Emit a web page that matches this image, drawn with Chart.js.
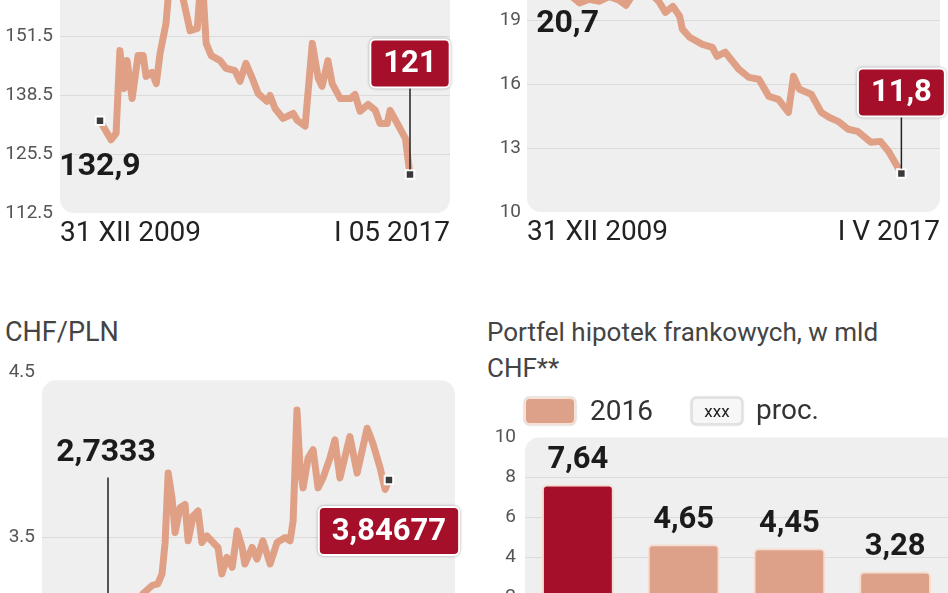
<!DOCTYPE html>
<html>
<head>
<meta charset="utf-8">
<script src="https://cdn.jsdelivr.net/npm/chart.js@4.4.1/dist/chart.umd.min.js"></script>
<style>
  html, body { margin: 0; padding: 0; background: #fff; }
  body { width: 948px; height: 593px; position: relative; overflow: hidden; font-family: Roboto, sans-serif; }
  .pane { position: absolute; }
  .title { position: absolute; color: #444; font-size: 26px; line-height: 36px; white-space: nowrap; }
  .swatch { position: absolute; width: 48px; height: 24px; border-radius: 6px; box-shadow: 0 0 2px rgba(0,0,0,0.35); }
  .legtext { position: absolute; color: #333; font-size: 28px; line-height: 28px; }
</style>
</head>
<body>

<div class="pane" style="left:0;top:-101px"><canvas id="c1" width="474" height="354"></canvas></div>
<div class="pane" style="left:474px;top:-64px"><canvas id="c2" width="474" height="316"></canvas></div>
<div class="pane" style="left:0;top:352px"><canvas id="c3" width="474" height="391"></canvas></div>
<div class="pane" style="left:474px;top:417px"><canvas id="c4" width="474" height="260"></canvas></div>

<div class="title" style="left:5px;top:314px;font-size:27px">CHF/PLN</div>
<div class="title" style="left:487px;top:314px">Portfel hipotek frankowych, w mld<br>CHF**</div>

<div class="swatch" style="left:524px;top:397px;background:#dda088;border:2px solid #f6e1d7"></div>
<div class="legtext" style="left:590px;top:397px">2016</div>
<div class="swatch" style="left:691px;top:397px;background:#f7f7f7;border:2px solid #e2e2e2;font-size:17px;line-height:24px;text-align:center;color:#222">xxx</div>
<div class="legtext" style="left:756px;top:396px">proc.</div>

<script>
// top-left panel
const dates1 = [2010.00, 2010.26, 2010.38, 2010.47, 2010.57, 2010.64, 2010.76, 2010.90, 2011.02, 2011.09,
  2011.23, 2011.33, 2011.42, 2011.56, 2011.66, 2011.85, 2011.99, 2012.13, 2012.30, 2012.37,
  2012.44, 2012.51, 2012.63, 2012.84, 2012.98, 2013.19, 2013.31, 2013.45, 2013.60, 2013.74,
  2013.95, 2014.02, 2014.14, 2014.33, 2014.57, 2014.66, 2014.85, 2015.02, 2015.16, 2015.25,
  2015.39, 2015.49, 2015.68, 2015.92, 2016.03, 2016.15, 2016.34, 2016.51, 2016.62, 2016.79,
  2016.86, 2017.03, 2017.22, 2017.33];
const values1 = [132.9, 128.7, 130.1, 148.4, 140.0, 146.2, 137.8, 147.3, 147.3, 142.7,
  143.6, 141.1, 147.8, 154.4, 165.4, 164.3, 158.8, 152.8, 153.3, 162.1,
  161.0, 150.0, 147.3, 146.2, 144.5, 144.0, 141.6, 145.6, 142.3, 138.9,
  137.2, 138.5, 135.6, 133.4, 134.5, 133.0, 131.7, 150.0, 142.3, 140.5,
  146.2, 141.1, 137.8, 137.8, 138.7, 135.0, 136.5, 135.2, 132.3, 132.3,
  135.2, 132.3, 129.0, 121];
const yTicks1 = [112.5, 125.5, 138.5, 151.5, 164.5, 177.5];
const xLabels1 = ['31 XII 2009', 'I 05 2017'];

// top-right panel
const dates2 = [2010.00, 2010.11, 2010.26, 2010.48, 2010.70, 2010.91, 2011.13, 2011.28, 2011.44, 2011.67,
  2011.89, 2012.00, 2012.15, 2012.31, 2012.46, 2012.52, 2012.68, 2012.96, 2013.18, 2013.28,
  2013.46, 2013.76, 2013.98, 2014.20, 2014.42, 2014.63, 2014.85, 2014.96, 2015.09, 2015.35,
  2015.57, 2015.74, 2015.94, 2016.16, 2016.37, 2016.66, 2016.87, 2017.05, 2017.33];
const values2 = [20.7, 20.07, 19.8, 19.97, 19.88, 20.1, 19.93, 19.69, 20.2, 20.44,
  20.1, 19.88, 19.36, 19.64, 19.18, 18.57, 18.19, 17.86, 17.72, 17.30,
  17.49, 16.69, 16.31, 16.22, 15.42, 15.28, 14.67, 16.36, 15.75, 15.52,
  14.67, 14.44, 14.25, 13.88, 13.78, 13.27, 13.31, 12.84, 11.8];
const yTicks2 = [10, 13, 16, 19, 22];
const xLabels2 = ['31 XII 2009', 'I V 2017'];

// CHF/PLN
const dates3 = [2010.00, 2010.31, 2010.65, 2010.91, 2011.15, 2011.30, 2011.41, 2011.49, 2011.57, 2011.67,
  2011.75, 2011.88, 2012.01, 2012.09, 2012.22, 2012.35, 2012.45, 2012.58, 2012.74, 2012.87,
  2012.97, 2013.10, 2013.24, 2013.37, 2013.50, 2013.57, 2013.76, 2013.89, 2014.04, 2014.23,
  2014.41, 2014.62, 2014.75, 2014.83, 2014.93, 2015.01, 2015.09, 2015.22, 2015.35, 2015.48,
  2015.61, 2015.79, 2015.92, 2016.05, 2016.31, 2016.50, 2016.76, 2016.91, 2017.10, 2017.23,
  2017.33];
const values3 = [2.7333, 2.85, 3.03, 3.16, 3.21, 3.22, 3.28, 3.47, 3.89, 3.74,
  3.53, 3.68, 3.70, 3.48, 3.63, 3.66, 3.47, 3.51, 3.47, 3.44,
  3.28, 3.38, 3.32, 3.54, 3.44, 3.34, 3.44, 3.37, 3.48, 3.34,
  3.47, 3.50, 3.48, 3.60, 4.27, 3.92, 3.80, 3.98, 4.03, 3.80,
  3.86, 3.98, 4.09, 3.86, 4.11, 3.89, 4.16, 4.07, 3.92, 3.79,
  3.84677];
const yTicks3 = [2.5, 3.5, 4.5];

// portfel hipotek frankowych
const banks = ['Bank 1', 'Bank 2', 'Bank 3', 'Bank 4'];
const portfolio2016 = [7.64, 4.65, 4.45, 3.28];
const yTicks4 = [0, 2, 4, 6, 8, 10];

const RED = '#a50f2a';
const SALMON = '#e0a086';
const BAR_SALMON = '#dda088';
const PLOT_BG = '#efefef';
const GRID = '#dbdbdb';

Chart.defaults.font.family = 'Roboto, sans-serif';

const fmt = v => String(v).replace('.', ',');

// rounded grey panel behind the plot area
const plotBg = {
  id: 'plotBg',
  beforeDraw(chart, args, opts) {
    const { ctx, chartArea: a, scales: { y } } = chart;
    const top = opts.from != null ? y.getPixelForValue(opts.from) : a.top;
    const right = a.right + (opts.extendRight || 0);
    ctx.save();
    ctx.fillStyle = PLOT_BG;
    ctx.beginPath();
    ctx.roundRect(a.left, top, right - a.left, a.bottom - top, 14);
    ctx.fill();
    ctx.restore();
  }
};

// start value label and end value box
const callouts = {
  id: 'callouts',
  afterDatasetsDraw(chart, args, opts) {
    const ctx = chart.ctx;
    const pts = chart.getDatasetMeta(0).data;
    const vals = chart.data.datasets[0].data;
    ctx.save();
    ctx.textAlign = 'center';
    ctx.textBaseline = 'middle';

    if (opts.start) {
      const p = pts[0], s = opts.start;
      const ly = p.y + s.dy;
      if (s.line) {
        ctx.strokeStyle = '#222';
        ctx.lineWidth = 1.5;
        ctx.beginPath();
        ctx.moveTo(p.x, ly + 24);
        ctx.lineTo(p.x, p.y);
        ctx.stroke();
      }
      ctx.font = 'bold 32px Roboto';
      ctx.fillStyle = '#1b1b1b';
      ctx.fillText(fmt(vals[0].y), p.x + (s.dx || 0), ly);
    }

    if (opts.end) {
      const p = pts[pts.length - 1], e = opts.end;
      const text = fmt(vals[vals.length - 1].y);
      ctx.font = 'bold 31px Roboto';
      const w = ctx.measureText(text).width + 24;
      const h = 46;
      const cy = p.y + e.dy;
      if (e.line) {
        ctx.strokeStyle = '#222';
        ctx.lineWidth = 1.5;
        ctx.beginPath();
        ctx.moveTo(p.x, cy + h / 2);
        ctx.lineTo(p.x, p.y - 5);
        ctx.stroke();
      }
      ctx.shadowColor = 'rgba(0,0,0,0.35)';
      ctx.shadowBlur = 3;
      ctx.fillStyle = '#fff';
      ctx.beginPath();
      ctx.roundRect(p.x - w / 2 - 2, cy - h / 2 - 2, w + 4, h + 4, 6);
      ctx.fill();
      ctx.shadowColor = 'transparent';
      ctx.fillStyle = RED;
      ctx.beginPath();
      ctx.roundRect(p.x - w / 2, cy - h / 2, w, h, 4);
      ctx.fill();
      ctx.fillStyle = '#fff';
      ctx.fillText(text, p.x, cy + 1);
    }
    ctx.restore();
  }
};

// values above the bars
const barLabels = {
  id: 'barLabels',
  afterDatasetsDraw(chart) {
    const ctx = chart.ctx;
    const bars = chart.getDatasetMeta(0).data;
    ctx.save();
    ctx.font = 'bold 31px Roboto';
    ctx.fillStyle = '#1b1b1b';
    ctx.textAlign = 'center';
    ctx.textBaseline = 'middle';
    bars.forEach((b, i) => {
      ctx.fillText(portfolio2016[i].toFixed(2).replace('.', ','), b.x, b.y - 24);
    });
    ctx.restore();
  }
};

function yScale(ticks, axisWidth, pad, decimals) {
  const lo = ticks[0], hi = ticks[ticks.length - 1];
  return {
    min: lo,
    max: hi,
    afterBuildTicks: s => { s.ticks = ticks.map(v => ({ value: v })); },
    afterFit: s => { s.width = axisWidth; },
    border: { display: false },
    grid: {
      drawTicks: false,
      color: c => (c.tick && (c.tick.value === lo || c.tick.value === hi)) ? 'rgba(0,0,0,0)' : GRID
    },
    ticks: {
      autoSkip: false,
      padding: pad,
      color: '#555',
      font: { size: 19 },
      callback: v => v.toFixed(decimals)
    }
  };
}

function lineChart(id, dates, values, cfg) {
  const data = dates.map((d, i) => ({ x: d, y: values[i] }));
  const last = data.length - 1;
  const x = cfg.xLabels ? {
    type: 'linear',
    min: cfg.xMin,
    max: cfg.xMax,
    border: { display: false },
    grid: { display: false, drawTicks: false },
    afterBuildTicks: s => { s.ticks = [{ value: s.min }, { value: s.max }]; },
    afterFit: s => { s.height = 40; },
    ticks: {
      align: 'inner',
      autoSkip: false,
      maxRotation: 0,
      padding: 4,
      color: '#222',
      font: { size: 28 },
      callback: (v, i) => cfg.xLabels[i]
    }
  } : { type: 'linear', min: cfg.xMin, max: cfg.xMax, display: false };

  return new Chart(document.getElementById(id), {
    type: 'line',
    data: {
      datasets: [{
        data: data,
        borderColor: SALMON,
        borderWidth: 7,
        borderJoinStyle: 'round',
        borderCapStyle: 'round',
        tension: 0,
        pointStyle: 'rect',
        pointRadius: c => (c.dataIndex === last || (cfg.startMarker && c.dataIndex === 0)) ? 6 : 0,
        pointBackgroundColor: '#3a3a3a',
        pointBorderColor: '#fff',
        pointBorderWidth: 2
      }]
    },
    options: {
      responsive: false,
      animation: false,
      layout: { padding: { top: 20, right: cfg.padRight, bottom: cfg.xLabels ? 0 : 40, left: 0 } },
      plugins: {
        legend: { display: false },
        tooltip: { enabled: false },
        plotBg: { from: cfg.bgFrom },
        callouts: { start: cfg.start, end: cfg.end }
      },
      scales: {
        x: x,
        y: yScale(cfg.yTicks, cfg.axisWidth, cfg.tickPad, cfg.decimals)
      }
    },
    plugins: [plotBg, callouts]
  });
}

lineChart('c1', dates1, values1, {
  xMin: 2009.054, xMax: 2018.276, xLabels: xLabels1,
  yTicks: yTicks1, axisWidth: 60, tickPad: 7, decimals: 1, padRight: 24,
  startMarker: true,
  start: { dy: 46 },
  end: { dy: -111, line: true }
});

lineChart('c2', dates2, values2, {
  xMin: 2009.108, xMax: 2018.178, xLabels: xLabels2,
  yTicks: yTicks2, axisWidth: 53, tickPad: 6, decimals: 0, padRight: 4,
  startMarker: true,
  start: { dy: 40 },
  end: { dy: -81, line: true }
});

lineChart('c3', dates3, values3, {
  xMin: 2008.278, xMax: 2019.053,
  yTicks: yTicks3, axisWidth: 42, tickPad: 7, decimals: 1, padRight: 19,
  bgFrom: 4.45,
  start: { dy: -211, dx: -2, line: true },
  end: { dy: 51, line: false }
});

new Chart(document.getElementById('c4'), {
  type: 'bar',
  data: {
    labels: banks,
    datasets: [{
      data: portfolio2016,
      backgroundColor: portfolio2016.map((v, i) => i === 0 ? RED : BAR_SALMON),
      borderColor: '#f5ddd2',
      borderWidth: 2,
      borderRadius: 5,
      borderSkipped: 'bottom',
      barPercentage: 0.68,
      categoryPercentage: 1
    }]
  },
  options: {
    responsive: false,
    animation: false,
    layout: { padding: { top: 20, right: 0, bottom: 40, left: 0 } },
    plugins: {
      legend: { display: false },
      tooltip: { enabled: false },
      plotBg: { extendRight: 30 }
    },
    scales: {
      x: { display: false },
      y: yScale(yTicks4, 51, 9, 0)
    }
  },
  plugins: [plotBg, barLabels]
});
</script>
</body>
</html>
